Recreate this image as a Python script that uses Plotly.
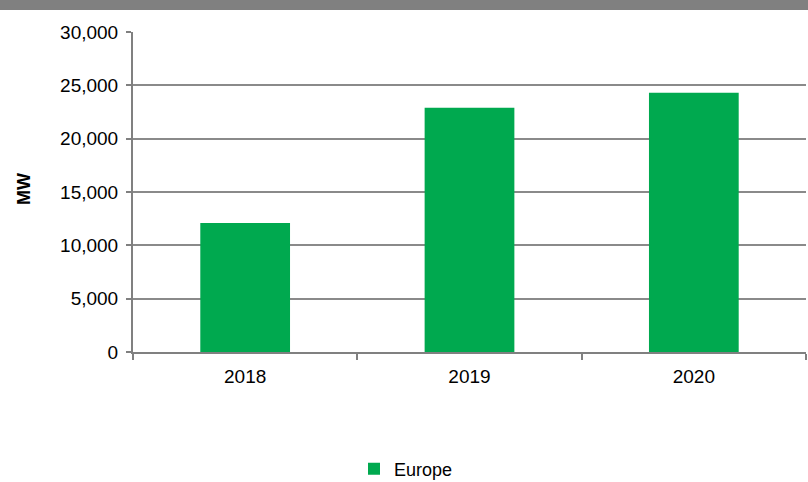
import plotly.graph_objects as go

years = ["2018", "2019", "2020"]
europe_mw = [12100, 22900, 24300]
series_name = "Europe"
y_title = "MW"

W, H = 808, 482
ML, MR, MT, MB = 133, 2, 32, 130
pw, ph = W - ML - MR, H - MT - MB

def px_x(x):
    return (x - ML) / pw

def px_y(y):
    return (H - MB - y) / ph

fig = go.Figure()
fig.add_trace(go.Bar(
    x=years, y=europe_mw, name=series_name,
    marker=dict(color="#00A94F", line=dict(width=0)),
    width=0.4,
))

font = "Arial, Liberation Sans, sans-serif"
FS = 19
fig.update_layout(
    width=W, height=H,
    margin=dict(l=ML, r=MR, t=MT, b=MB, autoexpand=False),
    paper_bgcolor="white", plot_bgcolor="white",
    font=dict(family=font, size=FS, color="#000000"),
    showlegend=True,
    legend=dict(orientation="h", xref="container", yref="container",
                x=354 / W, xanchor="left",
                y=1 - 469 / H, yanchor="middle",
                font=dict(size=18, color="#000000"),
                itemwidth=30, bgcolor="rgba(0,0,0,0)"),
    xaxis=dict(
        type="category", showgrid=False, showline=True,
        linecolor="#808080", linewidth=2,
        ticks="outside", tickson="boundaries", ticklen=6,
        tickcolor="#808080", tickwidth=2,
        ticklabelstandoff=6,
        tickfont=dict(size=FS, color="#000000"),
    ),
    yaxis=dict(
        range=[0, 30000], dtick=5000, tickformat=",d",
        showgrid=True, gridcolor="#8a8a8a", gridwidth=2,
        showline=True, linecolor="#808080", linewidth=2,
        ticks="outside", ticklen=5, tickcolor="#808080", tickwidth=2,
        ticklabelstandoff=4,
        tickfont=dict(size=FS, color="#000000"),
        zeroline=False,
    ),
)

fig.add_annotation(
    text="<b>" + y_title + "</b>", textangle=-90,
    xref="paper", yref="paper", x=px_x(24), y=px_y(189),
    xanchor="center", yanchor="middle", showarrow=False,
    font=dict(family=font, size=18, color="#000000"),
)

fig.add_shape(type="rect", xref="paper", yref="paper",
              x0=px_x(0), x1=px_x(W), y0=px_y(10), y1=px_y(-20),
              fillcolor="#808080", line=dict(width=0), layer="above")

fig.write_html("out.html")
